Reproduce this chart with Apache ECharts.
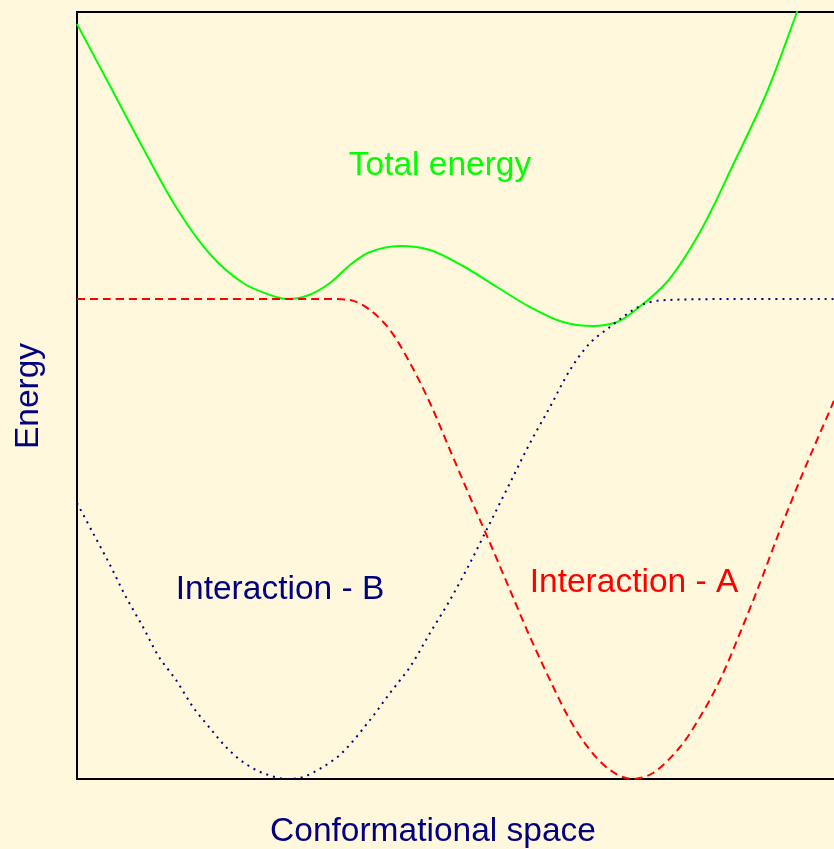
<!DOCTYPE html>
<html>
<head>
<meta charset="utf-8">
<script src="https://cdn.jsdelivr.net/npm/echarts@6/dist/echarts.min.js"></script>
<style>
  html, body { margin: 0; padding: 0; background: #fff8dc; }
  #energyChart { width: 834px; height: 849px; }
</style>
</head>
<body>
<div id="energyChart"></div>
<script>
// x = position along conformational space, y = energy (arbitrary units)
var totalEnergy = [
    [0, 755], [32, 695], [66, 631], [99, 572], [132, 526], [166, 496],
    [199, 482], [212, 480], [232, 484], [253, 496], [273, 514], [293, 527],
    [323, 533], [353, 529], [386, 513], [420, 492], [453, 472], [486, 457],
    [516, 453], [540, 457], [556, 467], [590, 497], [623, 547], [656, 614],
    [690, 687], [720, 767], [733, 802]
];

var interactionA = [
    [0, 480], [123, 480], [253, 480], [273, 479], [293, 469], [313, 449],
    [333, 416], [353, 376], [373, 329], [393, 282], [413, 236], [433, 189],
    [453, 142], [473, 99], [493, 59], [513, 29], [533, 9], [555, 0],
    [576, 6], [603, 32], [623, 62], [643, 99], [663, 146], [683, 196],
    [703, 249], [723, 299], [743, 346], [756, 376], [773, 419]
];

var interactionB = [
    [0, 276], [16, 246], [32, 216], [49, 182], [66, 152], [82, 122],
    [99, 99], [116, 72], [132, 52], [149, 32], [166, 17], [186, 6],
    [211, 0], [226, 2], [246, 12], [266, 27], [293, 59], [313, 86],
    [333, 112], [353, 146], [373, 179], [393, 216], [413, 256], [433, 296],
    [453, 336], [473, 372], [493, 409], [513, 436], [533, 452], [553, 467],
    [570, 476], [590, 479], [673, 480], [773, 480]
];

var myChart = echarts.init(document.getElementById('energyChart'));

var font = '33.5px "Liberation Sans", Arial, sans-serif';

option = {
    animation: false,
    backgroundColor: '#fff8dc',
    grid: {
        show: true,
        left: 77,
        top: 12,
        right: -20,
        bottom: 70,
        outerBoundsMode: 'none',
        borderColor: '#000',
        borderWidth: 2,
        backgroundColor: 'transparent'
    },
    xAxis: {
        type: 'value', min: 0, max: 777,
        axisLine: { show: false }, axisTick: { show: false },
        axisLabel: { show: false }, splitLine: { show: false }
    },
    yAxis: {
        type: 'value', min: 0, max: 767,
        axisLine: { show: false }, axisTick: { show: false },
        axisLabel: { show: false }, splitLine: { show: false }
    },
    series: [
        {
            name: 'Total energy',
            type: 'line',
            data: totalEnergy,
            showSymbol: false,
            smooth: 0.33,
            clip: true,
            lineStyle: { color: '#00ff00', width: 2 }
        },
        {
            name: 'Interaction - A',
            type: 'line',
            data: interactionA,
            showSymbol: false,
            smooth: 0.33,
            clip: true,
            lineStyle: { color: '#ff0000', width: 2, type: [8, 5] }
        },
        {
            name: 'Interaction - B',
            type: 'line',
            data: interactionB,
            showSymbol: false,
            smooth: 0.33,
            clip: true,
            lineStyle: { color: '#000080', width: 2, type: [2, 5] }
        }
    ],
    graphic: [
        { type: 'text', x: 440, y: 166, style: { text: 'Total energy', fill: '#00ff00', font: font, textAlign: 'center', textVerticalAlign: 'middle' } },
        { type: 'text', x: 280, y: 590, style: { text: 'Interaction - B', fill: '#000080', font: font, textAlign: 'center', textVerticalAlign: 'middle' } },
        { type: 'text', x: 634, y: 583, style: { text: 'Interaction - A', fill: '#ff0000', font: font, textAlign: 'center', textVerticalAlign: 'middle' } },
        { type: 'text', x: 433, y: 832, style: { text: 'Conformational space', fill: '#000080', font: font, textAlign: 'center', textVerticalAlign: 'middle' } },
        { type: 'text', x: 29, y: 396, rotation: Math.PI / 2, style: { text: 'Energy', fill: '#000080', font: font, textAlign: 'center', textVerticalAlign: 'middle' } }
    ]
};

myChart.setOption(option);
</script>
</body>
</html>
